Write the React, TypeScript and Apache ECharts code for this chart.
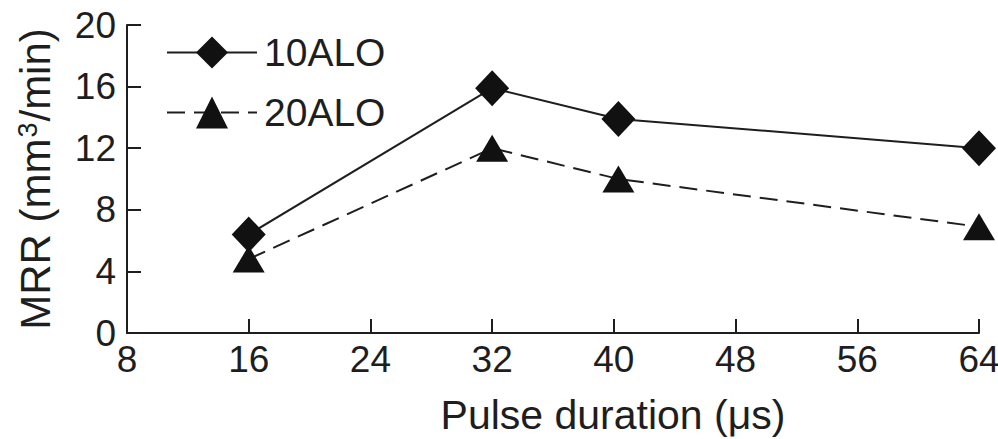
import React, { useEffect, useRef } from "react";
import * as echarts from "echarts";

// Pulse duration (µs) against material removal rate (mm³/min)
const seriesNames = ["10ALO", "20ALO"];
const pulse10 = [16, 32, 40.3, 64];
const mrr10 = [6.4, 15.9, 13.9, 12.0];
const pulse20 = [16, 32, 40.3, 64];
const mrr20 = [4.8, 12.0, 10.0, 6.9];

const xTicks = { min: 8, max: 64, interval: 8 };
const yTicks = { min: 0, max: 20, interval: 4 };

const FONT = "'Liberation Sans', Arial, Helvetica, sans-serif";
const INK = "#1e1e1e";

export default function App() {
  const ref = useRef<HTMLDivElement>(null);

  useEffect(() => {
    if (!ref.current) return;
    const chart = echarts.init(ref.current, undefined, { renderer: "svg" });

    const axisCommon = {
      axisLine: { show: true, onZero: false, lineStyle: { color: INK, width: 2 } },
      axisTick: { show: true, inside: true, length: 14, lineStyle: { color: INK, width: 2 } },
      splitLine: { show: false },
      axisLabel: { color: INK, fontSize: 37, fontFamily: FONT },
    };

    chart.setOption({
      animation: false,
      backgroundColor: "#ffffff",
      grid: {
        left: 127,
        right: 19,
        top: 25,
        bottom: 106,
        containLabel: false,
        outerBoundsMode: "none",
      },
      xAxis: {
        type: "value",
        ...xTicks,
        ...axisCommon,
        axisLabel: { ...axisCommon.axisLabel, margin: 8 },
      },
      yAxis: {
        type: "value",
        ...yTicks,
        ...axisCommon,
        axisLabel: { ...axisCommon.axisLabel, margin: 11 },
        name: "MRR (mm{sup|3}/min)",
        nameLocation: "middle",
        nameGap: 71,
        nameTextStyle: {
          color: INK,
          fontSize: 42,
          fontFamily: FONT,
          rich: {
            sup: { fontSize: 27, fontFamily: FONT, color: INK, verticalAlign: "top", padding: [0, 1, 14, 1] },
          },
        },
      },
      legend: {
        left: 166,
        top: 33,
        padding: 0,
        orient: "vertical",
        itemWidth: 90,
        itemHeight: 40,
        itemGap: 21,
        textStyle: { color: INK, fontSize: 39, fontFamily: FONT, padding: [0, 0, 0, 2] },
        data: seriesNames,
      },
      graphic: [
        {
          type: "text",
          x: 613,
          y: 415,
          style: {
            text: "Pulse duration (μs)",
            fill: INK,
            font: `41px ${FONT}`,
            textAlign: "center",
            textVerticalAlign: "middle",
          },
        },
      ],
      series: [
        {
          name: seriesNames[0],
          type: "line",
          data: pulse10.map((x, i) => [x, mrr10[i]]),
          symbol: "diamond",
          symbolSize: [34, 36],
          itemStyle: { color: "#111111" },
          lineStyle: { color: INK, width: 2, type: "solid" },
          z: 3,
        },
        {
          name: seriesNames[1],
          type: "line",
          data: pulse20.map((x, i) => [x, mrr20[i]]),
          symbol: "triangle",
          symbolSize: [32, 27],
          itemStyle: { color: "#111111" },
          lineStyle: { color: INK, width: 2, type: [18, 9] },
          z: 2,
        },
      ],
    });

    return () => chart.dispose();
  }, []);

  return (
    <div
      ref={ref}
      style={{ position: "absolute", left: 0, top: 0, width: 998, height: 439 }}
    />
  );
}
